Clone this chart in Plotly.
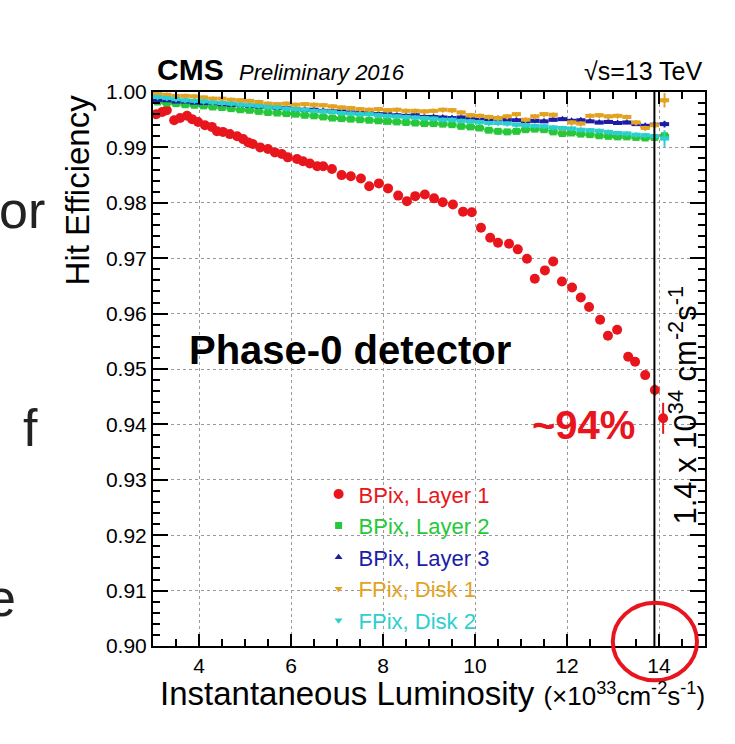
import plotly.graph_objects as go

FONT = "Liberation Sans, Arial, Helvetica, sans-serif"

# ---------------- data ----------------
names = ["BPix, Layer 1", "BPix, Layer 2", "BPix, Layer 3", "FPix, Disk 1", "FPix, Disk 2"]
colors = ["#e8161c", "#26c83a", "#1c1ca6", "#e2a321", "#2ccfcf"]
symbols = ["circle", "square", "triangle-up", "triangle-down", "triangle-down"]

# BPix Layer 1
l1_x = [3.07, 3.20, 3.30, 3.46, 3.59, 3.74, 3.85, 3.98, 4.13, 4.28, 4.39, 4.52, 4.67, 4.83, 4.96,
        5.07, 5.17, 5.33, 5.50, 5.65, 5.80, 5.93, 6.13, 6.26, 6.41, 6.57, 6.70, 6.89, 7.10, 7.30,
        7.52, 7.70, 7.91, 8.11, 8.33, 8.52, 8.70, 8.91, 9.11, 9.30, 9.52, 9.74, 9.93, 10.13, 10.33,
        10.50, 10.74, 10.93, 11.13, 11.30, 11.52, 11.70, 11.89, 12.11, 12.30, 12.48, 12.72, 12.89,
        13.09, 13.33, 13.48, 13.70, 13.91, 14.09]
l1_y = [0.9960, 0.9964, 0.9967, 0.9949, 0.9953, 0.9957, 0.9951, 0.9946, 0.9940, 0.9937, 0.9929,
        0.9928, 0.9924, 0.9920, 0.9915, 0.9909, 0.9906, 0.9900, 0.9897, 0.9891, 0.9888, 0.9882,
        0.9879, 0.9875, 0.9871, 0.9866, 0.9866, 0.9861, 0.9850, 0.9848, 0.9844, 0.9830, 0.9835,
        0.9826, 0.9813, 0.9803, 0.9812, 0.9815, 0.9808, 0.9801, 0.9797, 0.9784, 0.9783, 0.9755,
        0.9737, 0.9728, 0.9726, 0.9716, 0.9699, 0.9663, 0.9678, 0.9694, 0.9658, 0.9647, 0.9629,
        0.9612, 0.9589, 0.9560, 0.9571, 0.9522, 0.9513, 0.9489, 0.9462, 0.9411]
l1_err = [0.0003] * 62 + [0.0010, 0.0028]

# other layers / disks share the same luminosity bins
lumi = [3.1, 3.3, 3.5, 3.7, 3.9, 4.1, 4.3, 4.5, 4.7, 4.9, 5.1, 5.3, 5.5, 5.7, 5.9, 6.1, 6.3, 6.5,
        6.7, 6.9, 7.1, 7.3, 7.5, 7.7, 7.9, 8.1, 8.3, 8.5, 8.7, 8.9, 9.1, 9.3, 9.5, 9.7, 9.9, 10.1,
        10.3, 10.5, 10.7, 10.9, 11.1, 11.3, 11.5, 11.7, 11.9, 12.1, 12.3, 12.5, 12.7, 12.9, 13.1,
        13.3, 13.5, 13.7, 13.9, 14.12]

l2_y = [0.9982, 0.9980, 0.9979, 0.9977, 0.9976, 0.9975, 0.9973, 0.9972, 0.9970, 0.9968,
        0.9967, 0.9965, 0.9963, 0.9962, 0.9961, 0.9960, 0.9958, 0.9957, 0.9955, 0.9953,
        0.9952, 0.9951, 0.9950, 0.9949, 0.9948, 0.9947, 0.9946, 0.9945, 0.9944, 0.9943,
        0.9943, 0.9942, 0.9941, 0.9938, 0.9937, 0.9935, 0.9931, 0.9929, 0.9928, 0.9929,
        0.9932, 0.9933, 0.9932, 0.9928, 0.9925, 0.9926, 0.9924, 0.9923, 0.9921, 0.9920,
        0.9919, 0.9919, 0.9918, 0.9917, 0.9918, 0.9921]
l3_y = [0.9986, 0.9985, 0.9983, 0.9983, 0.9981, 0.9980, 0.9980, 0.9978, 0.9977, 0.9977,
        0.9975, 0.9974, 0.9973, 0.9971, 0.9971, 0.9969, 0.9968, 0.9968, 0.9966, 0.9965,
        0.9965, 0.9963, 0.9962, 0.9962, 0.9960, 0.9960, 0.9958, 0.9957, 0.9958, 0.9955,
        0.9955, 0.9954, 0.9953, 0.9954, 0.9951, 0.9950, 0.9951, 0.9952, 0.9950, 0.9949,
        0.9947, 0.9948, 0.9947, 0.9950, 0.9951, 0.9948, 0.9949, 0.9947, 0.9945, 0.9946,
        0.9944, 0.9945, 0.9942, 0.9939, 0.9941, 0.9942]
d1_y = [0.9997, 0.9995, 0.9993, 0.9993, 0.9992, 0.9990, 0.9988, 0.9988, 0.9986, 0.9985,
        0.9984, 0.9982, 0.9979, 0.9978, 0.9979, 0.9977, 0.9978, 0.9977, 0.9976, 0.9974,
        0.9972, 0.9971, 0.9969, 0.9968, 0.9969, 0.9967, 0.9968, 0.9966, 0.9966, 0.9965,
        0.9966, 0.9968, 0.9967, 0.9963, 0.9958, 0.9957, 0.9955, 0.9953, 0.9956, 0.9960,
        0.9950, 0.9956, 0.9960, 0.9959, 0.9934, 0.9945, 0.9943, 0.9957, 0.9958, 0.9956,
        0.9957, 0.9955, 0.9945, 0.9935, 0.9940, 0.9985]
d2_y = [0.9991, 0.9989, 0.9987, 0.9985, 0.9984, 0.9983, 0.9981, 0.9980, 0.9979, 0.9977,
        0.9976, 0.9975, 0.9973, 0.9972, 0.9970, 0.9969, 0.9968, 0.9966, 0.9965, 0.9964,
        0.9962, 0.9961, 0.9960, 0.9960, 0.9958, 0.9957, 0.9956, 0.9955, 0.9954, 0.9953,
        0.9952, 0.9950, 0.9950, 0.9948, 0.9947, 0.9946, 0.9944, 0.9944, 0.9943, 0.9941,
        0.9940, 0.9939, 0.9938, 0.9936, 0.9935, 0.9934, 0.9932, 0.9931, 0.9930, 0.9928,
        0.9926, 0.9925, 0.9923, 0.9922, 0.9920, 0.9916]
l2_err = [0.0003] * 55 + [0.0006]
l3_err = [0.0003] * 55 + [0.0006]
d1_err = [0.0004] * 55 + [0.0013]
d2_err = [0.0004] * 55 + [0.0015]

y_ticks = [0.90, 0.91, 0.92, 0.93, 0.94, 0.95, 0.96, 0.97, 0.98, 0.99, 1.00]
x_ticks = [4, 6, 8, 10, 12, 14]
lumi_marker = 13.9   # 1.4 x 10^34

# ---------------- figure ----------------
fig = go.Figure()

series = [
    (l1_x, l1_y, l1_err, 10, 0.0),
    (lumi, l2_y, l2_err, 7, 0.1),
    (lumi, l3_y, l3_err, 7, 0.1),
    (lumi, d1_y, d1_err, 7, 0.1),
    (lumi, d2_y, d2_err, 7, 0.1),
]
for i, (xs, ys, es, msize, xerr) in enumerate(series):
    fig.add_trace(go.Scatter(
        x=xs, y=ys, mode="markers",
        name=f"<span style='color:{colors[i]}'>{names[i]}</span>",
        marker=dict(symbol=symbols[i], size=msize, color=colors[i], line=dict(width=0)),
        error_y=dict(type="data", array=es, visible=True, color=colors[i], thickness=2, width=0),
        error_x=dict(type="constant", value=xerr, visible=xerr > 0, color=colors[i], thickness=4, width=0),
    ))

fig.update_layout(
    width=735, height=744,
    margin=dict(l=153, r=30, t=92, b=98),
    paper_bgcolor="white", plot_bgcolor="white",
    font=dict(family=FONT, color="black"),
    showlegend=True,
    legend=dict(x=0.300, y=0.312, xanchor="left", yanchor="top",
                bgcolor="rgba(0,0,0,0)", font=dict(size=22, family=FONT),
                tracegroupgap=0, itemwidth=30),
)

axis_common = dict(
    ticks="inside", tickcolor="black", tickwidth=1.5,
    showline=True, linecolor="black", linewidth=2, mirror="allticks",
    showgrid=True, gridcolor="#9a9a9a", griddash="dot", gridwidth=1,
    zeroline=False, tickfont=dict(size=21, family=FONT, color="black"),
)
fig.update_xaxes(range=[3, 15], tickvals=x_ticks, ticklen=12,
                 minor=dict(dtick=0.5, tick0=3, ticks="inside", ticklen=7, tickcolor="black", showgrid=False),
                 **axis_common)
fig.update_yaxes(range=[0.90, 1.00], tickvals=y_ticks, tickformat=".2f", ticklen=15,
                 minor=dict(dtick=0.002, tick0=0.9, ticks="inside", ticklen=7, tickcolor="black", showgrid=False),
                 **axis_common)

# vertical line at 1.4e34
fig.add_shape(type="line", xref="x", yref="paper", x0=lumi_marker, x1=lumi_marker, y0=0, y1=1,
              line=dict(color="black", width=2))
# red circle highlighting x = 14
fig.add_shape(type="circle", xref="paper", yref="paper", x0=0.833, x1=0.9855, y0=-0.062, y1=0.078,
              line=dict(color="#e8141e", width=4))

ann = []
ann.append(dict(text="<b>CMS</b>", x=0.003, y=1.040, xref="paper", yref="paper", xanchor="left",
                yanchor="middle", showarrow=False, font=dict(size=30, family=FONT)))
ann.append(dict(text="<i>Preliminary 2016</i>", x=0.152, y=1.036, xref="paper", yref="paper",
                xanchor="left", yanchor="middle", showarrow=False, font=dict(size=22, family=FONT)))
ann.append(dict(text="√s=13 TeV", x=1.0, y=1.038, xref="paper", yref="paper", xanchor="right",
                yanchor="middle", showarrow=False, font=dict(size=25, family=FONT)))
ann.append(dict(text="Hit Efficiency", x=-0.136, y=1.0, xref="paper", yref="paper", xanchor="center",
                yanchor="top", textangle=-90, showarrow=False, font=dict(size=33, family=FONT)))
ann.append(dict(text="Instantaneous Luminosity <span style='font-size:26px'>(×10<sup>33</sup>cm<sup>-2</sup>s<sup>-1</sup>)</span>",
                x=1.004, y=-0.086, xref="paper", yref="paper", xanchor="right", yanchor="middle",
                showarrow=False, font=dict(size=33, family=FONT)))
ann.append(dict(text="<b>Phase-0 detector</b>", x=0.357, y=0.534, xref="paper", yref="paper",
                xanchor="center", yanchor="middle", showarrow=False, font=dict(size=40, family=FONT)))
ann.append(dict(text="<b>~94%</b>", x=0.779, y=0.399, xref="paper", yref="paper",
                xanchor="center", yanchor="middle", showarrow=False,
                font=dict(size=40, family=FONT, color="#e8141e")))
ann.append(dict(text="1.4 x 10<sup>34</sup> cm<sup>-2</sup>s<sup>-1</sup>", x=0.960, y=0.434,
                xref="paper", yref="paper", xanchor="center", yanchor="middle", textangle=-90,
                showarrow=False, font=dict(size=31, family=FONT)))
# fragments of slide text cut at the left edge
for txt, xr, yc in [("or", -0.192, 0.787), ("f", -0.205, 0.393), ("e", -0.2446, 0.087)]:
    ann.append(dict(text=txt, x=xr, y=yc, xref="paper", yref="paper", xanchor="right",
                    yanchor="middle", showarrow=False, font=dict(size=52, family=FONT, color="#222222")))
fig.update_layout(annotations=ann)

fig.write_html("out.html")
